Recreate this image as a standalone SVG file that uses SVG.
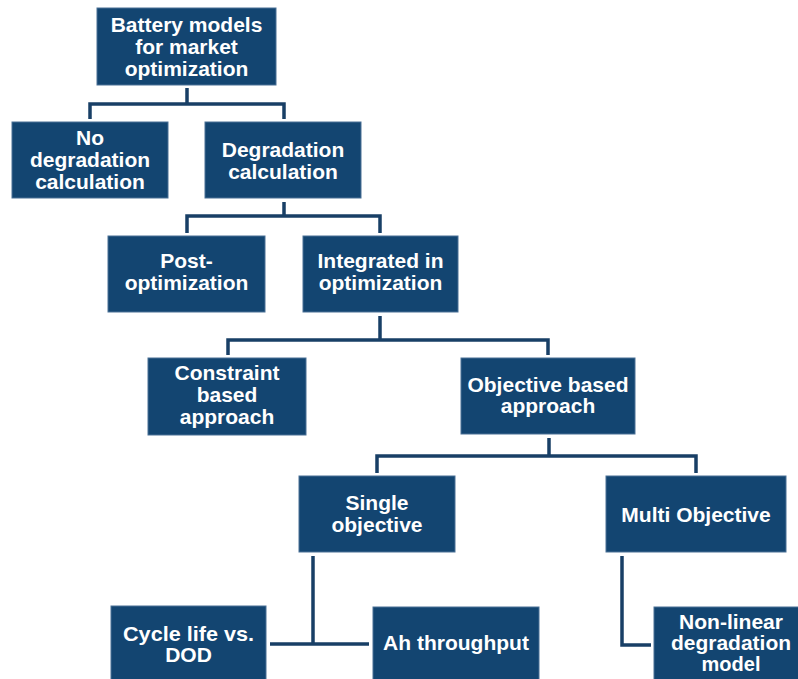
<svg xmlns="http://www.w3.org/2000/svg" width="798" height="679" viewBox="0 0 798 679">
  <style>
    .box { fill: #134571; stroke: #4a7196; stroke-width: 1; }
    .lbl { fill: #ffffff; font-family: "Liberation Sans", Arial, sans-serif; font-weight: bold; font-size: 21px; text-anchor: middle; }
    .tight { font-size: 20px; }
    .link { fill: none; stroke: #183f66; stroke-width: 3.5; stroke-linejoin: miter; }
  </style>
  <rect width="798" height="679" fill="#ffffff"/>

  <!-- connectors -->
  <g id="connectors">
    <path class="link" d="M187,88 V104 M90,119 V104 H284 V119"/>
    <path class="link" d="M284,202 V216 M187,233 V216 H380 V233"/>
    <path class="link" d="M380,316 V340 M228,355 V340 H548 V355"/>
    <path class="link" d="M549,438 V456 M377,473 V456 H696 V473"/>
    <path class="link" d="M313,556 V644 M270,644 H369"/>
    <path class="link" d="M622,556 V645 H651"/>
  </g>

  <g id="battery-models">
    <rect class="box" x="97" y="8" width="179" height="77"/>
    <text class="lbl" x="186.5" y="32">Battery models</text>
    <text class="lbl" x="186.5" y="54">for market</text>
    <text class="lbl" x="186.5" y="76">optimization</text>
  </g>

  <g id="no-degradation">
    <rect class="box" x="12" y="122" width="156" height="76"/>
    <text class="lbl" x="90" y="145">No</text>
    <text class="lbl" x="90" y="167">degradation</text>
    <text class="lbl" x="90" y="189">calculation</text>
  </g>

  <g id="degradation-calculation">
    <rect class="box" x="205" y="122" width="156" height="76"/>
    <text class="lbl" x="283" y="157">Degradation</text>
    <text class="lbl" x="283" y="179">calculation</text>
  </g>

  <g id="post-optimization">
    <rect class="box" x="108" y="236" width="157" height="76"/>
    <text class="lbl" x="186.5" y="268">Post-</text>
    <text class="lbl" x="186.5" y="290">optimization</text>
  </g>

  <g id="integrated-optimization">
    <rect class="box" x="303" y="236" width="155" height="76"/>
    <text class="lbl" x="380.5" y="268">Integrated in</text>
    <text class="lbl" x="380.5" y="290">optimization</text>
  </g>

  <g id="constraint-based">
    <rect class="box" x="148" y="358" width="158" height="77"/>
    <text class="lbl" x="227" y="380">Constraint</text>
    <text class="lbl" x="227" y="402">based</text>
    <text class="lbl" x="227" y="424">approach</text>
  </g>

  <g id="objective-based">
    <rect class="box" x="461" y="358" width="174" height="76"/>
    <text class="lbl" x="548" y="392">Objective based</text>
    <text class="lbl" x="548" y="413">approach</text>
  </g>

  <g id="single-objective">
    <rect class="box" x="299" y="476" width="156" height="76"/>
    <text class="lbl" x="377" y="510">Single</text>
    <text class="lbl" x="377" y="532">objective</text>
  </g>

  <g id="multi-objective">
    <rect class="box" x="606" y="476" width="180" height="76"/>
    <text class="lbl" x="696" y="522">Multi Objective</text>
  </g>

  <g id="cycle-life">
    <rect class="box" x="111" y="606" width="155" height="84"/>
    <text class="lbl" x="188.5" y="641" textLength="131" lengthAdjust="spacingAndGlyphs">Cycle life vs.</text>
    <text class="lbl" x="188.5" y="662">DOD</text>
  </g>

  <g id="ah-throughput">
    <rect class="box" x="373" y="607" width="166" height="84"/>
    <text class="lbl" x="456" y="650">Ah throughput</text>
  </g>

  <g id="non-linear">
    <rect class="box" x="654" y="607" width="160" height="84"/>
    <text class="lbl tight" x="731" y="629" textLength="104" lengthAdjust="spacingAndGlyphs">Non-linear</text>
    <text class="lbl tight" x="731" y="650" textLength="120" lengthAdjust="spacingAndGlyphs">degradation</text>
    <text class="lbl tight" x="731" y="671">model</text>
  </g>
</svg>
